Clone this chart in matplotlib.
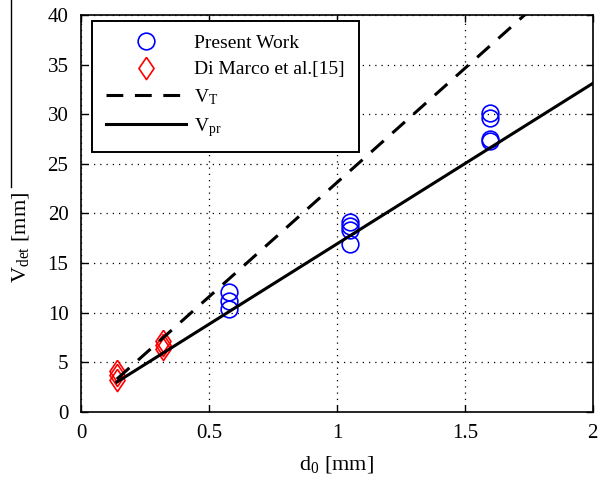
import matplotlib
matplotlib.use("Agg")
import matplotlib.pyplot as plt
from matplotlib.lines import Line2D

plt.rcParams['font.family'] = ['Liberation Serif', 'DejaVu Serif']
plt.rcParams['mathtext.fontset'] = 'custom'
plt.rcParams['mathtext.rm'] = 'Liberation Serif'
plt.rcParams['mathtext.it'] = 'Liberation Serif'

# Present work measurements
pw_d = [0.58, 0.58, 0.58, 1.05, 1.05, 1.05, 1.05, 1.60, 1.60, 1.60, 1.60]
pw_v = [12.1, 11.2, 10.4, 19.1, 18.7, 18.3, 16.9, 30.1, 29.6, 27.5, 27.3]

# Di Marco et al. [15]
dm_d = [0.14, 0.14, 0.14, 0.32, 0.32, 0.32]
dm_v = [3.2, 3.7, 4.1, 6.3, 6.7, 7.1]

# Model lines
vt_d = [0.14, 1.76]
vt_v = [3.3, 40.6]
vpr_d = [0.14, 2.0]
vpr_v = [3.0, 33.1]

xticks = [0, 0.5, 1, 1.5, 2]
xticklabels = ['0', '0.5', '1', '1.5', '2']
yticks = [0, 5, 10, 15, 20, 25, 30, 35, 40]

# tall open diamond
diamond = [(0, 1), (0.68, 0), (0, -1), (-0.68, 0), (0, 1)]

fig = plt.figure(figsize=(6, 4.8), dpi=100)
ax = fig.add_axes([0.135, 0.142, 0.853, 0.827])

ax.plot(pw_d, pw_v, linestyle='none', marker='o', markersize=12,
        markerfacecolor='none', markeredgecolor='#0000ff', markeredgewidth=1.2,
        label='Present Work')
ax.plot(dm_d, dm_v, linestyle='none', marker=diamond, markersize=16,
        markerfacecolor='none', markeredgecolor='#ff0000', markeredgewidth=1.2,
        label='Di Marco et al.[15]')
ax.plot(vt_d, vt_v, color='black', linewidth=2.2, linestyle=(0, (5.5, 3.8)),
        label=r'V$_\mathrm{T}$')
ax.plot(vpr_d, vpr_v, color='black', linewidth=2.2, label=r'V$_\mathrm{pr}$')

ax.set_xlim(0, 2)
ax.set_ylim(0, 40)
ax.set_xticks(xticks)
ax.set_xticklabels(xticklabels)
ax.set_yticks(yticks)
ax.tick_params(direction='in', top=True, right=True, length=5, width=1,
               labelsize=15, pad=9)
ax.grid(True, color='black', linestyle=(0, (1, 4)), linewidth=0.9)
for s in ax.spines.values():
    s.set_linewidth(1.2)

ax.set_xlabel(r'd$_\mathrm{0}$ [mm]', fontsize=16, labelpad=8)
ax.set_ylabel(r'V$_\mathrm{det}$ [mm]', fontsize=16)
ax.yaxis.set_label_coords(-0.098, 0.44)

leg = ax.legend(loc='upper left', bbox_to_anchor=(0.022, 0.985), fontsize=14,
                frameon=True, fancybox=False, edgecolor='black',
                handlelength=4.1, handletextpad=0.45, borderpad=0.7,
                labelspacing=0.45, borderaxespad=0.0)
leg.get_frame().set_linewidth(1.4)
leg.get_frame().set_alpha(1)

# thin rule above the y label
fig.add_artist(Line2D([0.019, 0.019], [1.0, 0.61], transform=fig.transFigure,
                      color='black', linewidth=1.0))

fig.savefig('out.png', dpi=100)
